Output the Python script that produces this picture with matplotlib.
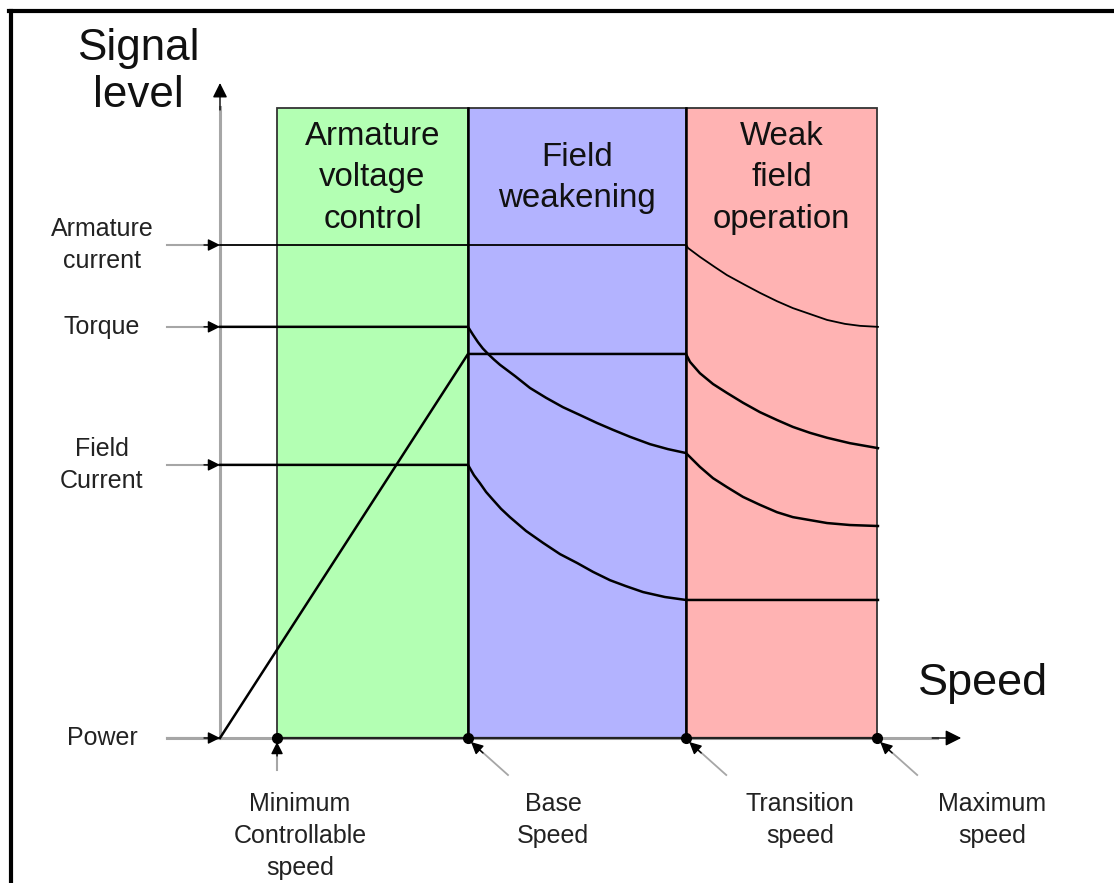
import matplotlib.pyplot as plt
from matplotlib.lines import Line2D
from matplotlib.patches import Rectangle

plt.rcParams['font.family'] = ['Liberation Sans', 'DejaVu Sans']

# speeds (1.0 = base speed) and signal levels (100 = armature current)
min_speed = 0.23
base_speed = 1.0
trans_speed = 1.88
max_speed = 2.65
region_top = 127.8

region_names = ["Armature\nvoltage\ncontrol", "Field\nweakening", "Weak\nfield\noperation"]
region_edges = [min_speed, base_speed, trans_speed, max_speed]
region_colors = ["#b3ffb3", "#b3b3ff", "#ffb3b3"]

signal_names = ["Armature\ncurrent", "Torque", "Field\nCurrent", "Power"]
signal_start = [100.0, 83.4, 55.4, 0.0]

# armature current
arm_s = [0.0, 1.88, 1.887, 1.935, 1.996, 2.044, 2.117, 2.177, 2.246, 2.31,
         2.379, 2.448, 2.52, 2.581, 2.653]
arm_l = [100.0, 100.0, 99.4, 97.6, 95.5, 93.9, 91.9, 90.3, 88.6, 87.2,
         86.0, 84.8, 84.0, 83.6, 83.4]

# torque
tq_s = [0.0, 1.0, 1.02, 1.04, 1.06, 1.081, 1.104, 1.129, 1.19, 1.25, 1.315, 1.383, 1.452, 1.52,
        1.585, 1.653, 1.734, 1.806, 1.879,
        1.935, 1.988, 2.044, 2.109, 2.177, 2.246, 2.31, 2.379, 2.448, 2.54, 2.653]
tq_l = [83.4, 83.4, 81.8, 80.3, 79.0, 77.9, 76.8, 75.7, 73.4, 71.0, 69.0, 67.1, 65.5, 63.9,
        62.5, 61.1, 59.6, 58.6, 57.8,
        55.0, 52.7, 50.9, 48.9, 47.3, 45.8, 44.8, 44.2, 43.6, 43.2, 43.0]

# power
pw_s = [0.0, 1.0, 1.879, 1.895, 1.935, 1.988, 2.044, 2.109, 2.177, 2.246,
        2.31, 2.379, 2.448, 2.54, 2.653]
pw_l = [0.0, 77.9, 77.9, 76.3, 74.0, 71.8, 70.0, 68.0, 66.1, 64.5,
        63.1, 61.9, 60.9, 59.8, 58.8]

# field current
fc_s = [0.0, 1.0, 1.024, 1.048, 1.073, 1.101, 1.133, 1.169, 1.234, 1.302, 1.371,
        1.44, 1.504, 1.573, 1.637, 1.706, 1.794, 1.879, 2.653]
fc_l = [55.4, 55.4, 53.3, 51.7, 49.9, 48.3, 46.5, 44.8, 42.0, 39.6, 37.3,
        35.5, 33.7, 32.0, 30.8, 29.6, 28.6, 28.0, 28.0]

speed_names = ["Minimum\nControllable\nspeed", "Base\nSpeed", "Transition\nspeed", "Maximum\nspeed"]
speed_marks = [min_speed, base_speed, trans_speed, max_speed]

# pixel layout: origin at (220, 738), 248 px per speed unit, 4.93 px per level unit
PX = 248.0
PY = 4.93
W, H = 1114, 883
fig = plt.figure(figsize=(W / 100, H / 100), dpi=100)
ax = fig.add_axes([0, 0, 1, 1])
ax.set_xlim(-220 / PX, (W - 220) / PX)
ax.set_ylim((738 - H) / PY, 738 / PY)
ax.axis('off')

def fs(px):
    return px * 0.72

grey = '#a6a6a6'
head = dict(arrowstyle='-|>', color='black', lw=1, shrinkA=0, shrinkB=0)

# regions
for i, name in enumerate(region_names):
    x0, x1 = region_edges[i], region_edges[i + 1]
    ax.add_patch(Rectangle((x0, 0), x1 - x0, region_top, facecolor=region_colors[i],
                           edgecolor='#333333', lw=1.3, zorder=1))
    ax.text((x0 + x1) / 2, (738 - 178) / PY, name, ha='center', va='center',
            fontsize=fs(33), linespacing=1.42, color='#111111', zorder=5)
for e in [base_speed, trans_speed]:
    ax.plot([e, e], [0, region_top], color='black', lw=1.8, zorder=2)

# axes
ax.plot([0, 0], [0, 128], color=grey, lw=2.2, zorder=2)
ax.annotate('', xy=(0, (738 - 83) / PY), xytext=(0, (738 - 110) / PY),
            arrowprops=dict(head, mutation_scale=22), zorder=6)
ax.plot([-53 / PX, max_speed + 60 / PX], [0, 0], color=grey, lw=2.2, zorder=2)
ax.plot([min_speed, max_speed], [0, 0], color='#222222', lw=1.6, zorder=3)
ax.annotate('', xy=(max_speed + 84 / PX, 0), xytext=(max_speed + 55 / PX, 0),
            arrowprops=dict(head, mutation_scale=24), zorder=6)

ax.text(-82 / PX, (738 - 72) / PY, "Signal\nlevel", ha='center', va='center',
        fontsize=fs(44), linespacing=1.17, color='#111111')
ax.text(763 / PX, (738 - 683) / PY, "Speed", ha='center', va='center',
        fontsize=fs(45), color='#111111')

# signal lines
ax.plot(arm_s, arm_l, color='black', lw=1.3, zorder=4, solid_joinstyle='round')
ax.plot(tq_s, tq_l, color='black', lw=1.8, zorder=4, solid_joinstyle='round')
ax.plot(pw_s, pw_l, color='black', lw=1.8, zorder=4, solid_joinstyle='round')
ax.plot(fc_s, fc_l, color='black', lw=1.8, zorder=4, solid_joinstyle='round')

# left labels and arrows
for name, lev in zip(signal_names, signal_start):
    ax.plot([-53 / PX, -12 / PX], [lev, lev], color=grey, lw=1.5, zorder=3)
    ax.annotate('', xy=(0, lev), xytext=(-16 / PX, lev),
                arrowprops=dict(head, mutation_scale=18), zorder=6)
    ax.text(-118 / PX, lev, name, ha='center', va='center', fontsize=fs(25),
            linespacing=1.42, color='#222222')

# speed marks and labels
label_x = [300, 553, 800, 992]
for i, (name, s) in enumerate(zip(speed_names, speed_marks)):
    ax.plot([s], [0], 'o', color='black', ms=7, zorder=7)
    if i == 0:
        ax.plot([s, s], [-32 / PY, -14 / PY], color=grey, lw=1.5, zorder=3)
        ax.annotate('', xy=(s, -4 / PY), xytext=(s, -18 / PY),
                    arrowprops=dict(head, mutation_scale=18), zorder=6)
    else:
        ax.plot([s + 40 / PX, s + 12 / PX], [-37 / PY, -12 / PY], color=grey, lw=1.3, zorder=3)
        ax.annotate('', xy=(s + 3 / PX, -4 / PY), xytext=(s + 15 / PX, -15 / PY),
                    arrowprops=dict(head, mutation_scale=18), zorder=6)
    ax.text((label_x[i] - 220) / PX, (738 - 792) / PY, name, ha='center', va='top',
            fontsize=fs(25), linespacing=1.42, color='#222222')

# frame (top and left only)
fig.add_artist(Line2D([9 / W, 1], [1 - 10.5 / H, 1 - 10.5 / H], color='black', lw=3))
fig.add_artist(Line2D([10.5 / W, 10.5 / W], [0, 1 - 10.5 / H], color='black', lw=3))

fig.savefig("out.png", dpi=100)
